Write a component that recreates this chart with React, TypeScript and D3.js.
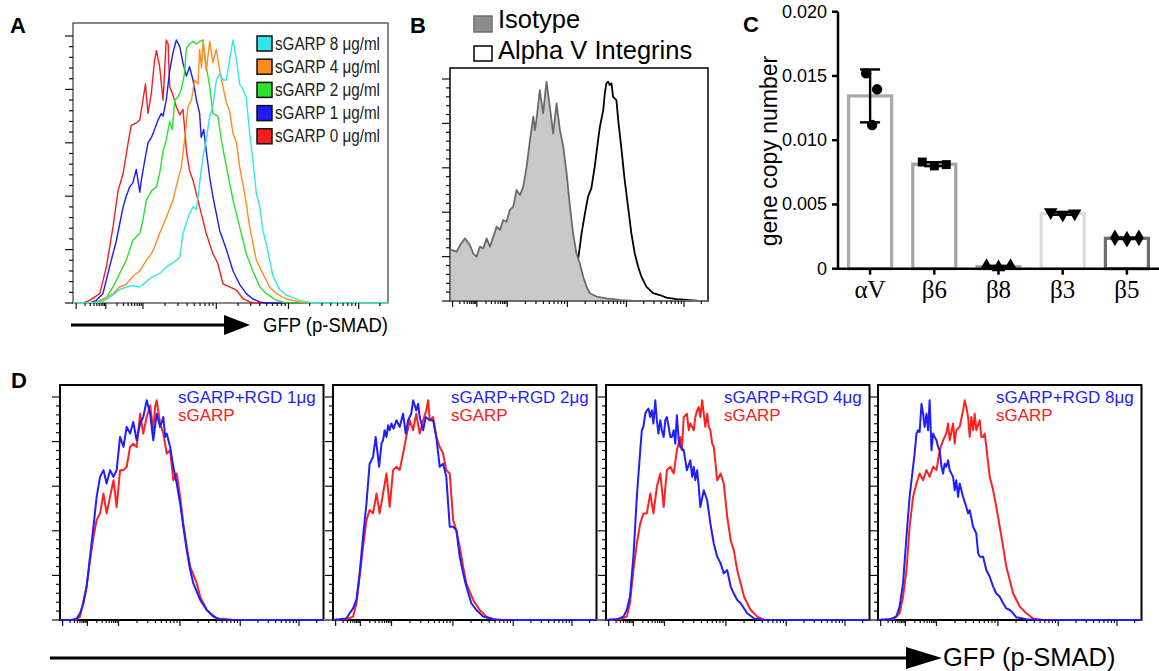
import React from 'react';
import * as d3 from 'd3';

type Pt = [number, number];

const W = 1159;
const H = 671;
const SANS = '"Liberation Sans", Arial, sans-serif';
const SERIF = '"Liberation Serif", "Times New Roman", serif';

// flow histograms: x = % of the GFP axis, y = % of mode
// logicle decade marks along the GFP axis (% of axis width)
const gfpDecades = [1.0, 10.4, 22.2, 45.5, 68.4, 90.7, 113];

// A: sGARP titration
const sgarp0: Pt[] = [[3.2,0],[5.3,1],[8.5,3.5],[10.6,13.5],[12.7,28.5],[14.3,42],[15.9,48.5],[17.5,60],[18.5,66.5],[20.1,67.5],[21.2,68.5],[22.2,76],[23.0,82],[23.8,71],[24.9,79],[25.9,91],[26.5,94.5],[27.5,88.5],[28.6,76],[29.6,98.5],[30.2,97],[30.7,81],[31.7,78],[32.8,73.5],[33.9,70.5],[34.9,72.5],[35.4,66],[36.0,57],[37.0,49.5],[38.1,46],[40.2,36],[42.3,26],[44.4,18.5],[46.0,14.8],[47.6,7.2],[49.7,6],[51.9,4.8],[54.0,1.6],[56.1,0.4],[58,0]];
const sgarp1: Pt[] = [[5.5,0],[7.4,1],[9.5,3.5],[11.6,13.5],[13.8,23.5],[15.9,36],[16.9,40],[18.0,43.5],[19.0,45],[20.1,50],[21.2,41.5],[21.7,46],[22.8,53.5],[23.8,60],[24.9,62],[25.9,65],[27.0,68.5],[28.0,71],[28.6,70],[29.6,76],[30.7,87],[31.7,93.5],[32.8,98.5],[33.9,96],[34.9,90],[36.0,85],[37.0,88.5],[38.1,83.5],[39.2,76],[40.2,71],[40.7,62],[41.5,65],[42.3,57],[43.4,47],[44.4,40],[45.5,33.5],[46.6,27],[48.7,20],[50.8,12],[52.9,7],[55.0,3.5],[57.1,1.5],[59.3,0.4],[61,0]];
const sgarp2: Pt[] = [[6,0],[7.4,0.4],[10.6,2],[12.7,6],[14.8,11],[16.9,16],[19.0,23.5],[21.2,26],[22.2,31],[23.3,38.5],[24.9,42],[26.5,43.5],[27.5,48.5],[28.6,57],[29.6,61],[30.7,68],[31.5,65],[32.3,76],[33.3,77],[34.4,80],[35.4,86],[36.0,95.5],[37.0,97],[38.1,98],[39.2,97],[40.2,98],[41.3,98.5],[42.3,88.5],[43.4,81],[44.4,71],[46.0,70],[47.1,61],[48.7,51],[50.8,38.5],[52.9,28.5],[55.0,18.5],[57.1,12],[59.3,6],[61.4,3.5],[64.6,1],[67.7,0]];
const sgarp4: Pt[] = [[7,0],[8.5,0.4],[12.7,3.5],[14.8,6],[16.9,7],[19.0,10],[21.2,12],[23.3,16],[24.9,18.5],[25.9,21],[27.5,26],[29.6,32],[31.7,38.5],[33.3,46],[34.4,51],[35.4,61],[36.5,73.5],[37.6,76],[38.6,83.5],[39.7,82],[40.2,95],[40.8,88],[41.3,98],[42.3,87],[43.4,98],[44.4,90],[45.5,95],[46.6,87],[47.6,81],[48.7,75],[49.7,72],[50.8,63.5],[51.9,60],[52.9,51],[54.5,41],[56.1,28.5],[58.2,16],[60.3,11],[62.4,6],[64.6,3.5],[67.7,1.5],[72.0,0.4],[75,0]];
const sgarp8: Pt[] = [[8.5,0],[11.6,2],[14.8,5],[16.9,6],[19.0,6.5],[21.2,6],[23.3,8],[25.4,10],[27.5,11],[29.6,13.5],[31.7,15],[33.9,17],[34.9,26],[36.0,30],[37.0,33.5],[38.1,36],[39.2,35],[40.2,45],[41.3,55],[42.3,61],[43.4,70],[44.4,73.5],[45.5,83.5],[46.6,86],[47.6,83.5],[48.7,83.5],[49.7,91],[50.8,98.5],[51.9,91],[52.9,82],[54.0,80],[55.0,77],[56.1,63.5],[57.1,53.5],[58.2,41],[59.3,36],[60.3,27],[61.4,22],[63.5,10],[65.6,5],[67.7,3],[69.8,2],[72.0,1],[76.2,0]];
const sgarpLegend = ['sGARP 8 μg/ml', 'sGARP 4 μg/ml', 'sGARP 2 μg/ml', 'sGARP 1 μg/ml', 'sGARP 0 μg/ml'];
const sgarpColors = ['#33e6e6', '#ff8c1f', '#2ee02e', '#1c1cf2', '#f51d1d'];

// B: alpha V staining
const isotype: Pt[] = [[0,23],[0.6,23],[2.6,22.2],[3.9,25.2],[5.8,28.2],[7.7,25.2],[9.0,21.5],[10.3,20],[11.6,24.5],[12.9,23.7],[14.2,28.2],[15.5,24.5],[16.8,29],[18.1,33.5],[19.4,32],[20.6,36.5],[21.9,35.7],[23.2,41],[24.5,42.5],[25.8,50],[27.1,47.7],[28.4,51.5],[29.7,60.5],[31.0,72.5],[32.3,83],[32.9,77],[33.5,81.5],[34.8,95],[36.1,84.5],[37.4,98.8],[38.7,87.5],[40.0,75.5],[41.3,89],[42.6,77],[43.9,69.5],[45.2,57.5],[46.5,42.5],[47.7,30.5],[49.0,21.5],[50.3,17],[51.6,11],[52.9,6.5],[54.2,3.5],[56.8,2],[60.6,1.2],[65.8,0.5],[71.0,0]];
const alphaVIntegrin: Pt[] = [[19.4,0.5],[32.3,1.2],[42.6,5],[47.1,11],[49.7,19],[51.0,30.5],[52.3,39.5],[53.5,47],[54.8,50.8],[56.1,60.5],[57.4,72.5],[58.1,78.5],[59.4,86],[60.0,93.5],[60.6,98],[61.3,98.8],[61.9,97.3],[62.6,98],[63.2,92],[64.5,90.5],[65.2,81.5],[66.5,68],[67.7,54.5],[69.0,42.5],[70.3,30.5],[71.6,21.5],[72.9,15.5],[74.2,11],[76.1,6.5],[78.7,3.5],[81.3,2.7],[83.9,1.5],[87.7,0.8],[91.6,0.5],[96.8,0]];

// C: qPCR, three replicates per integrin
const genes = ['αV', 'β6', 'β8', 'β3', 'β5'];
const copiesAlphaV = [0.0152, 0.01396, 0.01118];
const copiesB6 = [0.0083, 0.0080, 0.0081];
const copiesB8 = [0.0002, 0.0001, 0.0002];
const copiesB3 = [0.0044, 0.0042, 0.0043];
const copiesB5 = [0.0024, 0.0023, 0.0024];
const geneCopies = [copiesAlphaV, copiesB6, copiesB8, copiesB3, copiesB5];
const copyTicks = [0, 0.005, 0.010, 0.015, 0.020];
const barEdge = ['#a9a9a9', '#a3a3a3', '#a9a9a9', '#dcdcdc', '#6c6c6c'];
const dotShape = [d3.symbolCircle, d3.symbolSquare, d3.symbolTriangle, d3.symbolTriangle, d3.symbolDiamond];
const dotJitter = [[-4, 7, 2], [-12, 0, 12], [-12, 0, 12], [-12, 0, 12], [-12, 0, 12]];

// D: RGD blocking
const rgdDoses = ['1μg', '2μg', '4μg', '8μg'];
const rgd1: Pt[] = [[4.5,0],[6.3,0.7],[7.6,3],[8.9,7.5],[10.1,15],[11.4,28.4],[12.7,41.8],[13.9,55.2],[15.2,64.2],[16.5,67.2],[17.7,61.2],[19.0,67.2],[20.3,64.2],[21.5,67.2],[22.8,82.1],[24.1,77.6],[25.3,86.6],[26.6,83.6],[27.8,88.8],[29.1,80.6],[30.4,88.1],[31.6,91],[32.9,98.5],[34.2,92.5],[35.4,80.6],[36.7,92.5],[38.0,86.6],[39.2,91],[39.9,82.1],[40.5,83.6],[41.8,77.6],[43.0,68.7],[44.3,61.2],[45.6,52.2],[46.8,41.8],[48.1,31.3],[49.4,22.4],[50.6,16.4],[53.2,9],[55.7,4.5],[58.2,1.5],[60.8,0.3],[65.8,0]];
const sgarpD1: Pt[] = [[6,0],[7.6,1.5],[10.1,15],[11.4,26.9],[12.7,37.3],[13.9,44.8],[15.2,47.8],[16.5,56.7],[17.7,47.8],[19.0,55.2],[20.3,62.7],[21.5,50.7],[22.8,67.2],[24.1,67.2],[25.3,68.7],[26.6,77.6],[27.8,79.1],[29.1,77.6],[30.4,92.5],[31.6,83.6],[32.9,91],[34.2,96.3],[35.4,85.1],[36.1,95.5],[36.7,98.5],[38.0,88.1],[39.2,83.6],[40.5,74.6],[41.8,76.1],[43.0,62.7],[44.3,65.7],[45.6,55.2],[46.8,43.3],[48.1,32.8],[49.4,23.9],[51.9,16.4],[53.2,10.4],[55.7,4.5],[59.5,0.7],[65.8,0]];
const rgd2: Pt[] = [[2.5,0.3],[5.1,0.7],[6.3,3],[7.6,5.2],[8.9,9],[10.1,20.9],[11.4,37.3],[12.7,52.2],[13.9,70.1],[15.2,73.1],[16.2,82.1],[17.5,68.7],[18.4,79.1],[19.0,80.6],[19.6,85.1],[20.3,82.1],[20.9,87.3],[21.5,85.1],[22.2,88.1],[23.0,85.8],[24.1,89.6],[25.3,86.6],[26.6,92.5],[27.6,83.6],[28.5,89.6],[29.7,92.5],[30.4,98.5],[31.6,94],[32.3,97],[32.9,91],[34.2,85.1],[35.2,91],[36.7,89.6],[38.0,89.6],[39.2,82.1],[40.5,68.7],[41.8,70.1],[43.0,64.2],[44.3,41.8],[45.6,41.8],[46.8,40.3],[48.1,28.4],[49.4,20.9],[50.6,15],[52.5,7.5],[54.4,4.5],[57.0,1.5],[60.8,0.3],[64.6,0]];
const sgarpD2: Pt[] = [[5.1,0.3],[7.6,1.5],[8.9,7.5],[10.1,19.4],[11.4,32.8],[12.7,44.8],[13.9,49.3],[15.2,47.8],[16.5,56.7],[17.7,47.8],[19.0,56.7],[20.3,65.7],[21.5,50.7],[22.8,67.2],[24.1,68.7],[25.3,67.2],[26.6,74.6],[27.8,82.1],[29.1,89.6],[30.4,85.1],[31.6,92.5],[32.9,83.6],[34.2,89.6],[35.4,94],[36.1,98.5],[36.7,89.6],[38.0,91],[39.2,82.1],[40.5,77.6],[41.8,74.6],[43.0,67.2],[44.3,65.7],[45.6,44.8],[46.8,40.3],[48.1,32.8],[49.4,23.9],[50.6,16.4],[53.2,9],[55.7,4.5],[58.2,1.5],[62.0,0]];
const rgd4: Pt[] = [[4.1,0.3],[6.6,1.5],[7.9,4.5],[9.1,10.4],[10.4,28.4],[11.7,55.2],[13.0,76.1],[13.6,85.1],[14.2,86.6],[14.9,92.5],[15.5,94],[16.1,94.8],[16.8,91],[17.4,94],[18.0,88.1],[18.7,98.5],[19.3,89.6],[19.9,83.6],[20.6,89.6],[21.2,85.1],[21.9,82.1],[22.5,89.6],[23.1,91],[23.8,86.6],[24.4,82.1],[25.0,82.1],[25.7,85.1],[26.3,79.1],[26.9,91.8],[27.6,80.6],[28.2,77.6],[29.5,76.1],[30.7,67.2],[32.0,71.6],[32.7,64.2],[33.3,68.7],[33.9,62.7],[34.6,67.2],[35.2,59.7],[35.8,50.7],[37.1,58.2],[38.4,53.7],[39.6,43.3],[40.9,34.3],[42.2,28.4],[43.5,25.4],[44.7,20.9],[46.0,22.4],[47.3,15],[48.5,11.9],[49.8,9],[51.1,7.5],[53.6,3],[56.2,0.7],[60.0,0]];
const sgarpD4: Pt[] = [[5.3,0.3],[7.9,1.5],[9.1,7.5],[10.4,22.4],[11.7,34.3],[13.0,43.3],[14.2,47.8],[15.5,47.8],[16.8,56.7],[18.0,47.8],[19.3,59.7],[20.6,65.7],[21.9,50.7],[23.1,67.2],[24.4,68.7],[25.7,65.7],[26.9,76.1],[28.2,82.1],[28.8,76.1],[29.5,91],[30.7,92.5],[31.4,85.1],[32.0,88.1],[33.3,85.1],[33.9,91],[34.6,94],[35.2,95.5],[35.8,91],[36.5,98.5],[37.1,92.5],[37.7,86.6],[38.4,92.5],[39.0,86.6],[39.6,85.1],[40.3,79.1],[40.9,77.6],[42.2,62.7],[43.5,65.7],[44.7,61.2],[46.0,46.3],[47.3,35.8],[48.5,31.3],[49.8,22.4],[51.1,16.4],[52.4,10.4],[54.9,4.5],[57.4,1.5],[60.0,0]];
const rgd8: Pt[] = [[4.4,0.3],[7.0,1.5],[8.2,6],[9.5,16.4],[10.8,37.3],[12.0,55.2],[13.3,68.7],[13.9,74.6],[14.6,83.6],[15.2,85.1],[15.8,84.3],[16.5,97],[17.1,92.5],[17.7,86.6],[18.4,92.5],[19.0,85.1],[19.6,98.5],[20.3,76.1],[20.9,83.6],[21.5,82.1],[22.2,80.6],[22.8,77.6],[23.4,76.1],[24.1,68.7],[24.7,65.7],[25.3,70.1],[25.9,68.7],[26.6,71.6],[27.2,67.2],[28.5,64.2],[29.1,58.2],[29.7,62.7],[30.4,55.2],[31.0,61.2],[32.3,55.2],[33.5,50.7],[34.2,47.8],[34.8,49.3],[36.1,41.8],[37.3,38.8],[38.0,29.9],[38.6,28.4],[39.9,28.4],[41.1,22.4],[42.4,19.4],[43.7,15],[44.9,11.9],[46.2,10.4],[47.5,7.5],[48.7,5.2],[50.0,4.5],[51.3,3],[52.5,1.2],[56.3,0.3],[61.4,0]];
const sgarpD8: Pt[] = [[5.7,0.3],[8.2,3],[9.5,10.4],[10.8,22.4],[12.0,41.8],[13.3,55.2],[14.6,61.2],[15.8,65.7],[17.1,62.7],[18.4,67.2],[19.6,64.2],[20.9,68.7],[22.2,67.2],[23.4,76.1],[24.7,80.6],[25.9,83.6],[26.6,88.1],[27.2,80.6],[28.5,88.1],[29.1,79.1],[29.7,85.1],[31.0,86.6],[32.3,94],[32.9,98.5],[33.5,95.5],[34.2,91],[34.8,82.1],[35.4,91],[36.1,85.1],[36.7,92.5],[37.3,85.1],[38.6,89.6],[39.2,82.1],[39.9,82.1],[40.5,83.6],[41.1,77.6],[42.4,64.2],[43.7,58.2],[44.9,50.7],[46.2,41.8],[47.5,32.8],[48.7,23.9],[50.0,17.9],[51.3,11.9],[53.8,6],[56.3,3],[58.9,0.7],[62.7,0]];
const rgdCurves = [rgd1, rgd2, rgd4, rgd8];
const sgarpCurves = [sgarpD1, sgarpD2, sgarpD4, sgarpD8];

type Curve = { pts: Pt[]; color: string; width: number; fill?: string };

function Histogram({ x0, x1, top, bottom, peak, frame, frameWidth, curves }: {
  x0: number; x1: number; top: number; bottom: number; peak: number;
  frame: string; frameWidth: number; curves: Curve[];
}) {
  const x = d3.scaleLinear().domain([0, 100]).range([x0, x1]);
  const y = d3.scaleLinear().domain([0, 100]).range([bottom, peak]);
  const line = d3.line<Pt>().x(d => x(d[0])).y(d => y(d[1]));
  const area = d3.area<Pt>().x(d => x(d[0])).y0(y(0)).y1(d => y(d[1]));

  const xMajor = gfpDecades.filter(v => v <= 100);
  const xMinor = d3.range(gfpDecades.length - 1)
    .flatMap(i => d3.range(2, 10).map(m => gfpDecades[i] + Math.log10(m) * (gfpDecades[i + 1] - gfpDecades[i])))
    .filter(v => v < 100);
  const yMajor = d3.range(0, 101, 20);
  const yMinor = d3.range(4, 100, 4).filter(v => v % 20 !== 0);

  return (
    <g>
      <rect x={x0} y={top} width={x1 - x0} height={bottom - top} fill="none" stroke={frame} strokeWidth={frameWidth} />
      {curves.map((c, i) => {
        const pts: Pt[] = [[0, 0], ...c.pts, [100, 0]];
        return c.fill
          ? <path key={i} d={area(pts) ?? ''} fill={c.fill} stroke={c.color} strokeWidth={c.width} strokeLinejoin="round" />
          : <path key={i} d={line(pts) ?? ''} fill="none" stroke={c.color} strokeWidth={c.width} strokeLinejoin="round" />;
      })}
      <g stroke="#111" strokeWidth={1.2}>
        {yMajor.map(v => <line key={'ym' + v} x1={x0 - 8} x2={x0} y1={y(v)} y2={y(v)} />)}
        {yMinor.map(v => <line key={'yn' + v} x1={x0 - 4} x2={x0} y1={y(v)} y2={y(v)} />)}
        {xMajor.map(v => <line key={'xm' + v} x1={x(v)} x2={x(v)} y1={bottom} y2={bottom + 6} />)}
        {xMinor.map((v, i) => <line key={'xn' + i} x1={x(v)} x2={x(v)} y1={bottom} y2={bottom + 3} />)}
      </g>
    </g>
  );
}

function Arrow({ x0, x1, y, head, half, width }: { x0: number; x1: number; y: number; head: number; half: number; width: number }) {
  return (
    <g>
      <line x1={x0} x2={x1 - head + 2} y1={y} y2={y} stroke="#000" strokeWidth={width} />
      <path d={`M${x1 - head},${y - half}L${x1},${y}L${x1 - head},${y + half}Z`} fill="#000" />
    </g>
  );
}

function BarPanel() {
  const x = d3.scaleBand().domain(genes).range([838, 1159]).paddingInner(0.33).paddingOuter(0.165);
  const y = d3.scaleLinear().domain([0, 0.02]).range([268.7, 11.7]);
  const bw = x.bandwidth();
  return (
    <g fontFamily={SANS}>
      {genes.map((g, i) => {
        const vals = geneCopies[i];
        const mean = d3.mean(vals) ?? 0;
        const sd = d3.deviation(vals) ?? 0;
        const cx = (x(g) ?? 0) + bw / 2;
        const sym = d3.symbol().type(dotShape[i]).size(i === 0 ? 85 : 80);
        return (
          <g key={g}>
            <rect x={x(g)} y={y(mean)} width={bw} height={y(0) - y(mean)} fill="#fff" stroke={barEdge[i]} strokeWidth={3.2} />
            <g stroke="#000" strokeWidth={2.4}>
              <line x1={cx} x2={cx} y1={y(mean - sd)} y2={y(mean + sd)} />
              <line x1={cx - 10} x2={cx + 10} y1={y(mean + sd)} y2={y(mean + sd)} />
              <line x1={cx - 10} x2={cx + 10} y1={y(mean - sd)} y2={y(mean - sd)} />
            </g>
            {vals.map((v, j) => (
              <path key={j} d={sym() ?? ''} fill="#000"
                transform={`translate(${cx + dotJitter[i][j]},${y(v)})${i === 3 ? ' rotate(180)' : ''}`} />
            ))}
          </g>
        );
      })}
      <line x1={838} x2={838} y1={y(0.02)} y2={y(0) + 1} stroke="#000" strokeWidth={2.5} />
      <line x1={837} x2={1159} y1={y(0)} y2={y(0)} stroke="#000" strokeWidth={2.5} />
      {copyTicks.map(t => (
        <g key={t}>
          <line x1={832} x2={838} y1={y(t)} y2={y(t)} stroke="#000" strokeWidth={2.5} />
          <text x={827} y={y(t)} textAnchor="end" dominantBaseline="central" fontSize={18}>{t === 0 ? '0' : t.toFixed(3)}</text>
        </g>
      ))}
      {genes.map(g => {
        const cx = (x(g) ?? 0) + bw / 2;
        return (
          <g key={'l' + g}>
            <line x1={cx} x2={cx} y1={y(0)} y2={y(0) + 6} stroke="#000" strokeWidth={2.5} />
            <text x={cx} y={298} textAnchor="middle" fontFamily={SERIF} fontSize={25}>{g}</text>
          </g>
        );
      })}
      <text transform="translate(777,151) rotate(-90)" textAnchor="middle" fontSize={23}>gene copy number</text>
    </g>
  );
}

export default function App() {
  const dLefts = [60, 333, 606, 878];
  const dWidth = 263.5;
  return (
    <svg width={W} height={H} viewBox={`0 0 ${W} ${H}`} xmlns="http://www.w3.org/2000/svg"
      style={{ position: 'absolute', left: 0, top: 0, background: '#fff' }} fontFamily={SANS}>
      <rect width={W} height={H} fill="#fff" />

      {/* A */}
      <text x={10} y={33} fontSize={22} fontWeight="bold">A</text>
      <Histogram x0={73} x1={388} top={23} bottom={303} peak={36} frame="#3a3a3a" frameWidth={1.2}
        curves={[
          { pts: sgarp0, color: sgarpColors[4], width: 1.4 },
          { pts: sgarp1, color: sgarpColors[3], width: 1.4 },
          { pts: sgarp2, color: sgarpColors[2], width: 1.4 },
          { pts: sgarp4, color: sgarpColors[1], width: 1.4 },
          { pts: sgarp8, color: sgarpColors[0], width: 1.4 },
        ]} />
      {sgarpLegend.map((s, i) => {
        const cy = 43.5 + i * 23.2;
        return (
          <g key={s}>
            <rect x={257} y={cy - 7.5} width={15} height={15} fill={sgarpColors[i]} stroke="#111" strokeWidth={1.5} />
            <text x={275} y={cy + 6} fontSize={17.5} fill="#222" textLength={105} lengthAdjust="spacingAndGlyphs">{s}</text>
          </g>
        );
      })}
      <Arrow x0={71} x1={250} y={325} head={26} half={10} width={3} />
      <text x={263} y={332} fontSize={21} textLength={125} lengthAdjust="spacingAndGlyphs">GFP (p-SMAD)</text>

      {/* B */}
      <text x={410} y={33} fontSize={22} fontWeight="bold">B</text>
      <rect x={474} y={16} width={18} height={16} fill="#8c8c8c" stroke="#6e6e6e" strokeWidth={1.5} />
      <text x={498} y={28} fontSize={25.5}>Isotype</text>
      <rect x={474} y={46} width={18} height={15} fill="#fff" stroke="#000" strokeWidth={1.5} />
      <text x={498} y={59} fontSize={25.5}>Alpha V Integrins</text>
      <Histogram x0={450} x1={708} top={68} bottom={301} peak={79} frame="#000" frameWidth={1.5}
        curves={[
          { pts: alphaVIntegrin, color: '#000', width: 1.8 },
          { pts: isotype, color: '#6b6b6b', width: 1.8, fill: '#c9c9c9' },
        ]} />

      {/* C */}
      <text x={743} y={32} fontSize={22} fontWeight="bold">C</text>
      <BarPanel />

      {/* D */}
      <text x={11} y={388} fontSize={22} fontWeight="bold">D</text>
      {dLefts.map((l, i) => (
        <g key={i}>
          <Histogram x0={l} x1={l + dWidth} top={385} bottom={620} peak={397} frame="#000" frameWidth={2}
            curves={[
              { pts: sgarpCurves[i], color: '#ff2020', width: 2 },
              { pts: rgdCurves[i], color: '#1e1eff', width: 2 },
            ]} />
          <text x={l + 118} y={403} fontSize={17} fill="#1e1eff">{`sGARP+RGD ${rgdDoses[i]}`}</text>
          <text x={l + 118} y={421} fontSize={17} fill="#ff2020">sGARP</text>
        </g>
      ))}
      <Arrow x0={50} x1={942} y={658} head={36} half={11} width={3} />
      <text x={943} y={666} fontSize={25.5}>GFP (p-SMAD)</text>
    </svg>
  );
}
